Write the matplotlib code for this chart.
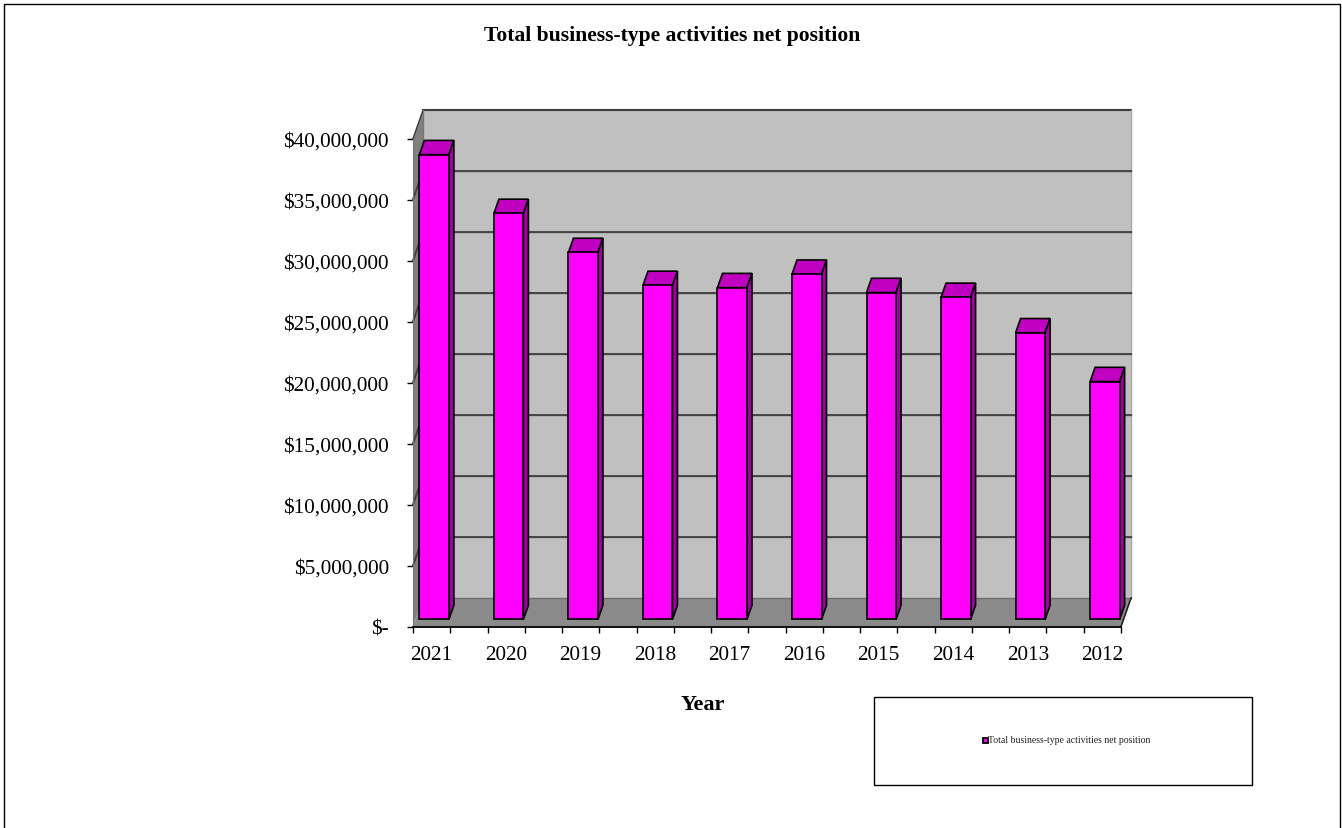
import numpy as np
import matplotlib
matplotlib.use('Agg')
import matplotlib.pyplot as plt
from matplotlib.patches import Polygon, Rectangle

years = ['2021', '2020', '2019', '2018', '2017', '2016', '2015', '2014', '2013', '2012']
net_position = [38100000, 33280000, 30080000, 27380000, 27200000,
                28300000, 26800000, 26400000, 23500000, 19500000]
y_ticks = [0, 5000000, 10000000, 15000000, 20000000, 25000000, 30000000, 35000000, 40000000]
y_labels = ['$-', '$5,000,000', '$10,000,000', '$15,000,000', '$20,000,000',
            '$25,000,000', '$30,000,000', '$35,000,000', '$40,000,000']
series_name = 'Total business-type activities net position'

W, H = 1342, 829
LEFT, RIGHT, TOP, BOTTOM = 413, 1121, 139.6, 627.6

plt.rcParams['font.family'] = ['Liberation Serif', 'DejaVu Serif']

fig = plt.figure(figsize=(W / 100, H / 100), dpi=100)
ax = fig.add_axes([LEFT / W, 1 - BOTTOM / H, (RIGHT - LEFT) / W, (BOTTOM - TOP) / H])
ax.set_xlim(0, 9.5)
ax.set_ylim(0, 40000000)

# oblique depth of the fake 3d box, in data units
DX = 10 * 9.5 / (RIGHT - LEFT)
DY = 28.5 * 40000000 / (BOTTOM - TOP)


def depth(x, y, d):
    return (x + d * DX, y + d * DY)


def face(points, color, z, edge='black', lw=1.2):
    ax.add_patch(Polygon(points, closed=True, facecolor=color, edgecolor=edge,
                         linewidth=lw, zorder=z, clip_on=False))


# walls and floor
face([depth(0, 0, 1), depth(9.5, 0, 1), depth(9.5, 40000000, 1), depth(0, 40000000, 1)],
     '#c0c0c0', 1, edge='none')
face([(0, 0), depth(0, 0, 1), depth(0, 40000000, 1), (0, 40000000)], '#808080', 1, edge='none')
face([(0, 0), (9.5, 0), depth(9.5, 0, 1), depth(0, 0, 1)], '#8a8a8a', 1, edge='none')

ax.plot(*zip(depth(0, 40000000, 1), depth(9.5, 40000000, 1)), color='#3c3c3c', lw=1.5, zorder=2, clip_on=False)
ax.plot(*zip((0, 40000000), depth(0, 40000000, 1)), color='#3c3c3c', lw=1, zorder=2, clip_on=False)
ax.plot(*zip(depth(9.5, 40000000, 1), depth(9.5, 0, 1)), color='#a8a8a8', lw=1, zorder=2, clip_on=False)
ax.plot(*zip(depth(0, 0, 1), depth(9.5, 0, 1)), color='#6e6e6e', lw=1, zorder=2, clip_on=False)
ax.plot(*zip((9.5, 0), depth(9.5, 0, 1)), color='#222222', lw=1.2, zorder=2, clip_on=False)
ax.plot(*zip(depth(0, 0, 1), depth(0, 40000000, 1)), color='#777777', lw=1, zorder=2, clip_on=False)

for t in y_ticks[1:-1]:
    ax.plot(*zip((0, t), depth(0, t, 1), depth(9.5, t, 1)), color='#444444', lw=1.5, zorder=2, clip_on=False)

# bars: front, side and top faces
centers = np.arange(len(years)) + 0.25
width = 29.5 * 9.5 / (RIGHT - LEFT)
for c, v in zip(centers, net_position):
    x0, x1 = c - width / 2, c + width / 2
    face([depth(x0, v, 0.25), depth(x1, v, 0.25), depth(x1, v, 0.75), depth(x0, v, 0.75)], '#c000c0', 3)
    face([depth(x1, 0, 0.25), depth(x1, 0, 0.75), depth(x1, v, 0.75), depth(x1, v, 0.25)], '#a000a0', 3)
    face([depth(x0, 0, 0.25), depth(x1, 0, 0.25), depth(x1, v, 0.25), depth(x0, v, 0.25)], '#ff00ff', 4)

for side in ['top', 'right']:
    ax.spines[side].set_visible(False)
ax.spines['left'].set_color('#777777')
ax.spines['left'].set_zorder(2)
ax.spines['bottom'].set_linewidth(1.3)
ax.set_facecolor('none')

ax.set_yticks(y_ticks)
ax.set_yticklabels(y_labels, fontsize=15.3)
ax.tick_params(axis='y', length=4.5, width=1, pad=13)
ax.set_xticks(centers)
ax.set_xticklabels(years, fontsize=15.3)
ax.set_xticks(np.arange(0, 9.75, 0.5), minor=True)
ax.tick_params(axis='x', which='major', length=0, pad=13)
ax.tick_params(axis='x', which='minor', length=4.5, width=1)

fig.text(672.5 / W, 1 - 36 / H, series_name, ha='center', va='center', fontsize=15.6, fontweight='bold')
fig.text(703 / W, 1 - 705 / H, 'Year', ha='center', va='center', fontsize=16, fontweight='bold')

# outer chart frame
fig.add_artist(Rectangle((4 / W, -0.01), (1336) / W, 1.01 - 5 / H, transform=fig.transFigure,
                         facecolor='none', edgecolor='black', linewidth=1))

# legend box
fig.add_artist(Rectangle((874 / W, 1 - 785.5 / H), 378 / W, 88 / H, transform=fig.transFigure,
                         facecolor='white', edgecolor='black', linewidth=1))
fig.add_artist(Rectangle((982.5 / W, 1 - 744 / H), 5 / W, 5 / H, transform=fig.transFigure,
                         facecolor='#ff00ff', edgecolor='black', linewidth=1.3))
fig.text(988.5 / W, 1 - 741 / H, series_name, ha='left', va='center', fontsize=7, color='#222222')

fig.savefig('out.png', dpi=100)
